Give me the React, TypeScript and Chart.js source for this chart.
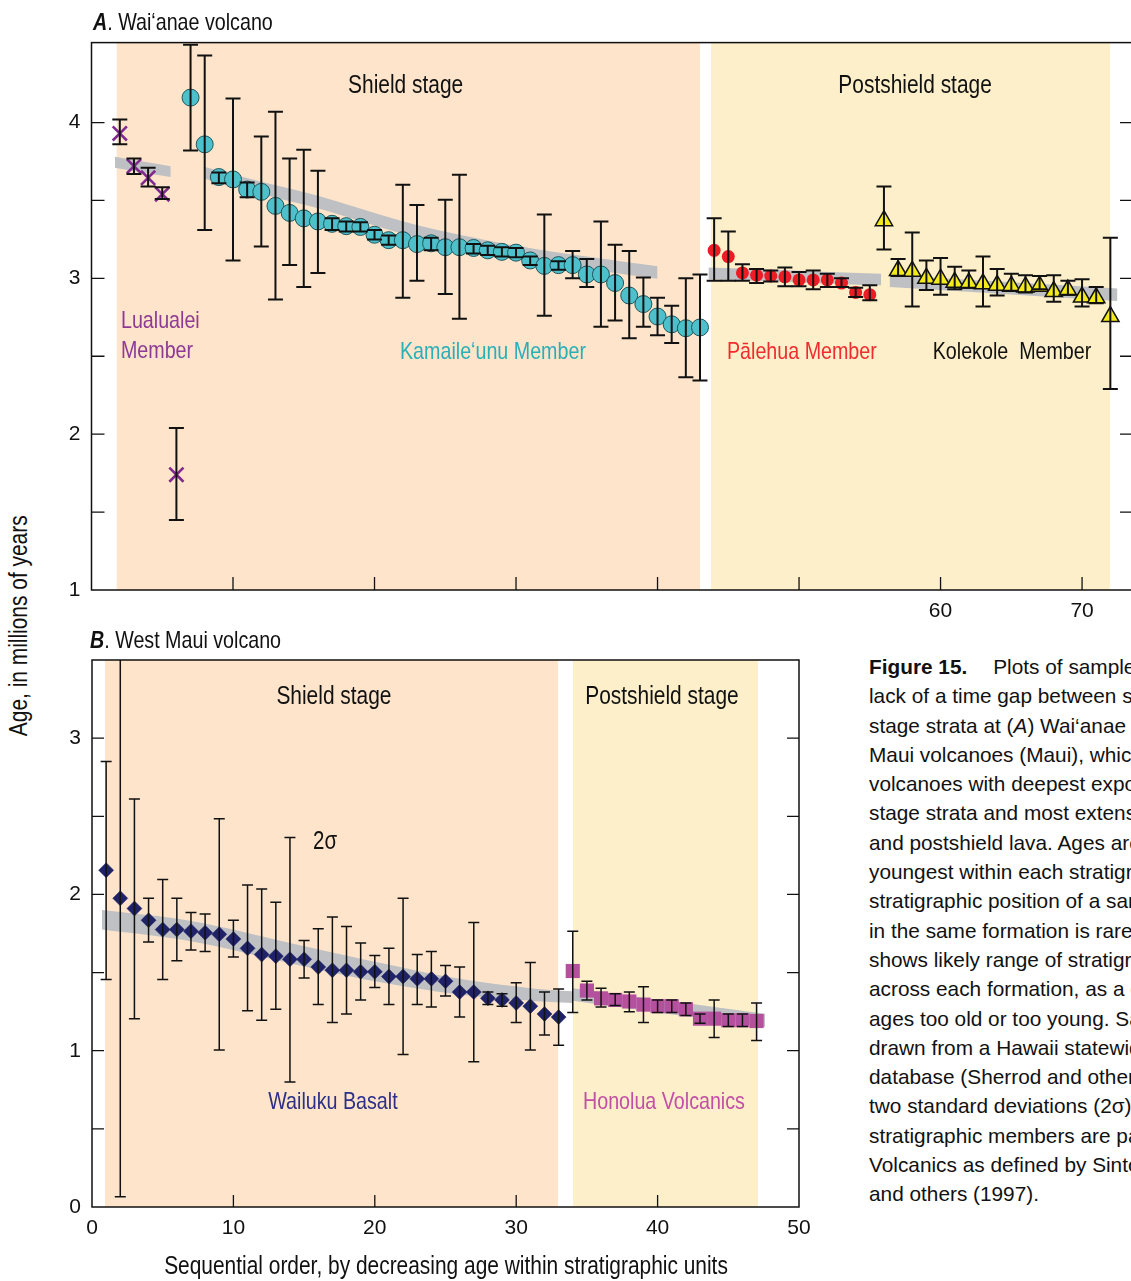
import React, { useEffect, useRef } from 'react';
import { Chart, registerables } from 'chart.js';

Chart.register(...registerables);

const SANS = '"Liberation Sans", Arial, sans-serif';
const CONDENSE = 0.82; // horizontal squeeze to imitate a condensed face

// ---------------- Panel A: Wai'anae volcano ----------------
const luaX = [2, 3, 4, 5, 6];
const luaAge = [3.93, 3.72, 3.645, 3.54, 1.74];
const luaLow = [3.86, 3.67, 3.59, 3.51, 1.45];
const luaHigh = [4.02, 3.77, 3.71, 3.585, 2.04];

const kamX = [7, 8, 9, 10, 11, 12, 13, 14, 15, 16, 17, 18, 19, 20, 21, 22, 23, 24, 25, 26, 27, 28, 29, 30, 31, 32, 33, 34, 35, 36, 37, 38, 39, 40, 41, 42, 43];
const kamAge = [4.16, 3.86, 3.65, 3.635, 3.57, 3.555, 3.465, 3.42, 3.385, 3.365, 3.35, 3.335, 3.33, 3.28, 3.245, 3.245, 3.22, 3.225, 3.2, 3.2, 3.195, 3.18, 3.17, 3.165, 3.115, 3.08, 3.085, 3.085, 3.025, 3.025, 2.97, 2.89, 2.835, 2.755, 2.705, 2.68, 2.685];
const kamLow = [3.82, 3.31, 3.61, 3.115, 3.52, 3.205, 2.865, 3.085, 2.945, 3.035, 3.31, 3.3, 3.3, 3.25, 3.215, 2.875, 2.985, 3.18, 2.9, 2.74, 3.16, 3.15, 3.14, 3.135, 3.085, 2.76, 3.055, 3.0, 2.945, 2.69, 2.73, 2.615, 2.69, 2.635, 2.585, 2.365, 2.345];
const kamHigh = [4.5, 4.43, 3.68, 4.155, 3.615, 3.91, 4.07, 3.77, 3.825, 3.69, 3.385, 3.365, 3.36, 3.31, 3.275, 3.6, 3.47, 3.26, 3.505, 3.665, 3.22, 3.21, 3.2, 3.195, 3.14, 3.41, 3.11, 3.175, 3.125, 3.365, 3.215, 3.175, 3.005, 2.875, 2.825, 3.0, 3.025];

const palX = [44, 45, 46, 47, 48, 49, 50, 51, 52, 53, 54, 55];
const palAge = [3.18, 3.14, 3.035, 3.02, 3.015, 3.01, 2.99, 2.99, 2.99, 2.97, 2.91, 2.895];
const palLow = [2.985, 2.985, 2.985, 2.97, 2.98, 2.95, 2.95, 2.93, 2.945, 2.945, 2.88, 2.86];
const palHigh = [3.385, 3.3, 3.09, 3.06, 3.05, 3.07, 3.04, 3.05, 3.03, 3.0, 2.94, 2.955];

const kolX = [56, 57, 58, 59, 60, 61, 62, 63, 64, 65, 66, 67, 68, 69, 70, 71, 72];
const kolAge = [3.37, 3.05, 3.045, 3.0, 2.995, 2.975, 2.97, 2.965, 2.955, 2.95, 2.945, 2.95, 2.915, 2.925, 2.88, 2.875, 2.755];
const kolLow = [3.185, 3.015, 2.82, 2.925, 2.895, 2.93, 2.94, 2.82, 2.89, 2.92, 2.91, 2.93, 2.85, 2.895, 2.82, 2.84, 2.29];
const kolHigh = [3.59, 3.125, 3.295, 3.115, 3.13, 3.075, 3.05, 3.14, 3.06, 3.03, 3.02, 3.015, 3.02, 2.985, 2.995, 2.945, 3.26];

// shaded trend bands (panel A)
const luaBandX = [1.65, 5.6];
const luaBandUpper = [3.78, 3.72];
const luaBandLower = [3.71, 3.65];
const kamBandX = [8, 12, 16, 20, 24, 30, 35, 40];
const kamBandUpper = [3.715, 3.62, 3.53, 3.42, 3.32, 3.21, 3.14, 3.077];
const kamBandLower = [3.64, 3.54, 3.45, 3.34, 3.24, 3.13, 3.06, 2.997];
const palBandX = [43.6, 55.8];
const palBandUpper = [3.07, 3.03];
const palBandLower = [2.995, 2.955];
const kolBandX = [56.4, 72.5];
const kolBandUpper = [3.02, 2.935];
const kolBandLower = [2.945, 2.855];

// ---------------- Panel B: West Maui volcano ----------------
const waiX = [1, 2, 3, 4, 5, 6, 7, 8, 9, 10, 11, 12, 13, 14, 15, 16, 17, 18, 19, 20, 21, 22, 23, 24, 25, 26, 27, 28, 29, 30, 31, 32, 33];
const waiAge = [2.155, 1.975, 1.91, 1.835, 1.775, 1.775, 1.765, 1.755, 1.745, 1.715, 1.655, 1.615, 1.605, 1.585, 1.585, 1.535, 1.515, 1.515, 1.505, 1.505, 1.475, 1.475, 1.46, 1.46, 1.445, 1.375, 1.375, 1.335, 1.325, 1.305, 1.285, 1.235, 1.215];
const waiLow = [1.455, 0.065, 1.205, 1.695, 1.455, 1.575, 1.645, 1.635, 1.005, 1.6, 1.255, 1.195, 1.265, 0.8, 1.465, 1.295, 1.18, 1.235, 1.325, 1.405, 1.295, 0.975, 1.295, 1.28, 1.35, 1.215, 0.93, 1.295, 1.285, 1.18, 1.005, 1.1, 1.035];
const waiHigh = [2.85, 3.88, 2.61, 1.975, 2.095, 1.975, 1.885, 1.875, 2.485, 1.835, 2.06, 2.035, 1.95, 2.365, 1.705, 1.78, 1.855, 1.795, 1.69, 1.61, 1.655, 1.975, 1.615, 1.635, 1.545, 1.535, 1.82, 1.375, 1.365, 1.435, 1.565, 1.375, 1.395];

const honX = [34, 35, 36, 37, 38, 39, 40, 41, 42, 43, 44, 45, 46, 47];
const honAge = [1.51, 1.385, 1.335, 1.325, 1.315, 1.295, 1.285, 1.285, 1.265, 1.205, 1.205, 1.195, 1.195, 1.19];
const honLow = [1.245, 1.325, 1.28, 1.29, 1.25, 1.18, 1.245, 1.245, 1.225, 1.175, 1.085, 1.155, 1.155, 1.065];
const honHigh = [1.765, 1.445, 1.4, 1.365, 1.375, 1.41, 1.325, 1.325, 1.305, 1.235, 1.325, 1.235, 1.235, 1.305];

const waiBandX = [0.7, 7, 14, 20, 26, 31, 34];
const waiBandUpper = [1.9, 1.83, 1.69, 1.57, 1.46, 1.4, 1.38];
const waiBandLower = [1.775, 1.7, 1.56, 1.445, 1.36, 1.32, 1.305];
const honBandX = [34, 47.6];
const honBandUpper = [1.4, 1.237];
const honBandLower = [1.32, 1.152];

// ---------------- axes ----------------
const aYTickLabels = [1, 2, 3, 4];
const aYTickMarks = [1.5, 2, 2.5, 3, 3.5, 4];
const aXTickLabels = [60, 70];
const aXTickMarks = [10, 20, 30, 40, 50, 60, 70];
const bYTickLabels = [0, 1, 2, 3];
const bYTickMarks = [0.5, 1, 1.5, 2, 2.5, 3];
const bXTickLabels = [0, 10, 20, 30, 40, 50];
const bXTickMarks = [10, 20, 30, 40];

// stage shading [from, to]
const aShieldStage = [1.78, 43.0];
const aPostshieldStage = [43.78, 71.98];
const bShieldStage = [0.92, 32.96];
const bPostshieldStage = [34.02, 47.1];

// in-plot labels
const aLabels = [
  { text: 'Shield stage', x: 22.2, y: 4.237, color: '#111', align: 'center', size: 25.5 },
  { text: 'Postshield stage', x: 58.2, y: 4.237, color: '#111', align: 'center', size: 25.5 },
  { text: 'Lualualei', x: 2.08, y: 2.725, color: '#8E3A94', align: 'left', size: 24 },
  { text: 'Member', x: 2.08, y: 2.532, color: '#8E3A94', align: 'left', size: 24 },
  { text: 'Kamaile‘unu Member', x: 28.37, y: 2.526, color: '#2AAFB8', align: 'center', size: 24 },
  { text: 'Pālehua Member', x: 50.2, y: 2.526, color: '#EE2D2F', align: 'center', size: 24 },
  { text: 'Kolekole  Member', x: 65.05, y: 2.526, color: '#111', align: 'center', size: 24 },
];
const bLabels = [
  { text: 'Shield stage', x: 17.11, y: 3.263, color: '#111', align: 'center', size: 25.5 },
  { text: 'Postshield stage', x: 40.31, y: 3.263, color: '#111', align: 'center', size: 25.5 },
  { text: '2σ', x: 16.48, y: 2.333, color: '#111', align: 'center', size: 25 },
  { text: 'Wailuku Basalt', x: 17.04, y: 0.667, color: '#2B2F86', align: 'center', size: 24 },
  { text: 'Honolua Volcanics', x: 40.45, y: 0.667, color: '#C24FA5', align: 'center', size: 24 },
];

const SHIELD_COLOR = '#FDE4CA';
const POST_COLOR = '#FCEFC9';
const BAND_COLOR = '#BEC0C3';

function pts(xs: number[], ys: number[]) {
  return xs.map((x, i) => ({ x, y: ys[i] }));
}

function band(xs: number[], upper: number[], lower: number[]) {
  return [
    {
      type: 'line', data: pts(xs, upper), showLine: true, borderWidth: 0, borderColor: 'rgba(0,0,0,0)',
      pointRadius: 0, fill: '+1', backgroundColor: BAND_COLOR, tension: 0.35, order: 10,
    },
    {
      type: 'line', data: pts(xs, lower), showLine: true, borderWidth: 0, borderColor: 'rgba(0,0,0,0)',
      pointRadius: 0, fill: false, tension: 0.35, order: 10,
    },
  ];
}

function markers(xs: number[], ys: number[], lo: number[], hi: number[], style: any) {
  return {
    type: 'scatter', data: pts(xs, ys), showLine: false, order: 0,
    errLow: lo, errHigh: hi,
    pointStyle: style.shape, pointRadius: style.r, radius: style.r,
    backgroundColor: style.fill, pointBackgroundColor: style.fill,
    borderColor: style.stroke, pointBorderColor: style.stroke,
    borderWidth: style.lw, pointBorderWidth: style.lw,
  };
}

type Decor = {
  stages: { range: number[]; color: string }[];
  labels: { text: string; x: number; y: number; color: string; align: string; size: number }[];
  xMarks: number[];
  yMarks: number[];
  tickLen: number;
  capHalf: number;
  errWidth: number;
};

function decorPlugin(d: Decor) {
  return {
    id: 'decor',
    beforeDatasetsDraw(chart: any) {
      const { ctx, chartArea: a, scales } = chart;
      ctx.save();
      for (const s of d.stages) {
        const x0 = Math.max(a.left, scales.x.getPixelForValue(s.range[0]));
        const x1 = Math.min(a.right, scales.x.getPixelForValue(s.range[1]));
        ctx.fillStyle = s.color;
        ctx.fillRect(x0, a.top, x1 - x0, a.bottom - a.top);
      }
      ctx.restore();
    },
    afterDatasetsDraw(chart: any) {
      const { ctx, chartArea: a, scales } = chart;
      ctx.save();
      ctx.beginPath();
      ctx.rect(a.left, a.top, a.right - a.left, a.bottom - a.top);
      ctx.clip();
      ctx.strokeStyle = '#111';
      ctx.lineWidth = d.errWidth;
      chart.data.datasets.forEach((ds: any) => {
        if (!ds.errLow) return;
        ds.data.forEach((p: any, i: number) => {
          const px = scales.x.getPixelForValue(p.x);
          const yl = scales.y.getPixelForValue(ds.errLow[i]);
          const yh = scales.y.getPixelForValue(ds.errHigh[i]);
          ctx.beginPath();
          ctx.moveTo(px, yl);
          ctx.lineTo(px, yh);
          ctx.moveTo(px - d.capHalf, yl);
          ctx.lineTo(px + d.capHalf, yl);
          ctx.moveTo(px - d.capHalf, yh);
          ctx.lineTo(px + d.capHalf, yh);
          ctx.stroke();
        });
      });
      ctx.restore();
    },
    afterDraw(chart: any) {
      const { ctx, chartArea: a, scales } = chart;
      ctx.save();
      ctx.strokeStyle = '#111';
      ctx.lineWidth = 1.5;
      ctx.strokeRect(a.left, a.top, a.right - a.left, a.bottom - a.top);
      ctx.lineWidth = 1.3;
      ctx.beginPath();
      for (const v of d.yMarks) {
        const py = scales.y.getPixelForValue(v);
        ctx.moveTo(a.left, py);
        ctx.lineTo(a.left + d.tickLen, py);
        ctx.moveTo(a.right, py);
        ctx.lineTo(a.right - d.tickLen, py);
      }
      for (const v of d.xMarks) {
        const px = scales.x.getPixelForValue(v);
        ctx.moveTo(px, a.bottom);
        ctx.lineTo(px, a.bottom - d.tickLen);
      }
      ctx.stroke();
      for (const l of d.labels) {
        ctx.save();
        ctx.translate(scales.x.getPixelForValue(l.x), scales.y.getPixelForValue(l.y));
        ctx.scale(CONDENSE, 1);
        ctx.font = `${l.size}px ${SANS}`;
        ctx.fillStyle = l.color;
        ctx.textAlign = l.align as CanvasTextAlign;
        ctx.textBaseline = 'middle';
        ctx.fillText(l.text, 0, 0);
        ctx.restore();
      }
      ctx.restore();
    },
  };
}

function makeConfig(opts: {
  datasets: any[]; xMin: number; xMax: number; yMin: number; yMax: number;
  xLabels: number[]; yLabels: number[]; padTop: number; padRight: number;
  yWidth: number; xHeight: number; decor: Decor;
}) {
  const tickFont = { family: SANS, size: 21 };
  return {
    type: 'scatter',
    data: { datasets: opts.datasets },
    options: {
      animation: false,
      responsive: false,
      events: [],
      layout: { padding: { top: opts.padTop, right: opts.padRight, left: 0, bottom: 0 } },
      plugins: { legend: { display: false }, tooltip: { enabled: false } },
      scales: {
        x: {
          type: 'linear', min: opts.xMin, max: opts.xMax,
          grid: { display: false, drawTicks: false }, border: { display: false },
          ticks: { font: tickFont, color: '#111', padding: 9, maxRotation: 0 },
          afterBuildTicks: (s: any) => { s.ticks = opts.xLabels.map((v) => ({ value: v })); },
          afterFit: (s: any) => { s.height = opts.xHeight; s.paddingLeft = 0; s.paddingRight = 0; },
        },
        y: {
          type: 'linear', min: opts.yMin, max: opts.yMax,
          grid: { display: false, drawTicks: false }, border: { display: false },
          ticks: { font: tickFont, color: '#111', padding: 11 },
          afterBuildTicks: (s: any) => { s.ticks = opts.yLabels.map((v) => ({ value: v })); },
          afterFit: (s: any) => { s.width = opts.yWidth; s.paddingTop = 0; s.paddingBottom = 0; },
        },
      },
    },
    plugins: [decorPlugin(opts.decor)],
  };
}

function configA() {
  const datasets = [
    markers(luaX, luaAge, luaLow, luaHigh, { shape: 'crossRot', r: 10, fill: '#80298F', stroke: '#80298F', lw: 2.6 }),
    markers(kamX, kamAge, kamLow, kamHigh, { shape: 'circle', r: 8.5, fill: '#4DC0CB', stroke: '#1F565C', lw: 1 }),
    markers(palX, palAge, palLow, palHigh, { shape: 'circle', r: 6.5, fill: '#EC1C24', stroke: '#EC1C24', lw: 0 }),
    markers(kolX, kolAge, kolLow, kolHigh, { shape: 'triangle', r: 10, fill: '#F3EA1C', stroke: '#111', lw: 1.5 }),
    ...band(luaBandX, luaBandUpper, luaBandLower),
    ...band(kamBandX, kamBandUpper, kamBandLower),
    ...band(palBandX, palBandUpper, palBandLower),
    ...band(kolBandX, kolBandUpper, kolBandLower),
  ];
  return makeConfig({
    datasets, xMin: 0, xMax: 73.6, yMin: 1, yMax: 4.513,
    xLabels: aXTickLabels, yLabels: aYTickLabels,
    padTop: 12, padRight: 67, yWidth: 51.5, xHeight: 50,
    decor: {
      stages: [{ range: aShieldStage, color: SHIELD_COLOR }, { range: aPostshieldStage, color: POST_COLOR }],
      labels: aLabels, xMarks: aXTickMarks, yMarks: aYTickMarks, tickLen: 13, capHalf: 7.5, errWidth: 2,
    },
  });
}

function configB() {
  const datasets = [
    markers(waiX, waiAge, waiLow, waiHigh, { shape: 'rectRot', r: 7.5, fill: '#1F2266', stroke: '#1F2266', lw: 0.5 }),
    markers(honX, honAge, honLow, honHigh, { shape: 'rect', r: 10, fill: '#B5509F', stroke: '#B5509F', lw: 0 }),
    ...band(waiBandX, waiBandUpper, waiBandLower),
    ...band(honBandX, honBandUpper, honBandLower),
  ];
  return makeConfig({
    datasets, xMin: 0, xMax: 50, yMin: 0, yMax: 3.5,
    xLabels: bXTickLabels, yLabels: bYTickLabels,
    padTop: 15, padRight: 31, yWidth: 52, xHeight: 48,
    decor: {
      stages: [{ range: bShieldStage, color: SHIELD_COLOR }, { range: bPostshieldStage, color: POST_COLOR }],
      labels: bLabels, xMarks: bXTickMarks, yMarks: bYTickMarks, tickLen: 12, capHalf: 5.5, errWidth: 1.5,
    },
  });
}

function ChartCanvas(props: { make: () => any; left: number; top: number; width: number; height: number }) {
  const ref = useRef<HTMLCanvasElement>(null);
  useEffect(() => {
    const chart = new Chart(ref.current as HTMLCanvasElement, props.make());
    return () => chart.destroy();
  }, []);
  return (
    <canvas
      ref={ref}
      width={props.width}
      height={props.height}
      style={{ position: 'absolute', left: props.left, top: props.top, width: props.width, height: props.height }}
    />
  );
}

const captionLines: React.ReactNode[] = [
  <><b>Figure 15.</b><span style={{ marginLeft: 26 }}>Plots of samples showing</span></>,
  'lack of a time gap between shield and postshield',
  <>stage strata at (<i>A</i>) Wai‘anae and (<i>B</i>) West</>,
  'Maui volcanoes (Maui), which are',
  'volcanoes with deepest exposed shield',
  'stage strata and most extensive',
  'and postshield lava. Ages are ordered',
  'youngest within each stratigraphic unit',
  'stratigraphic position of a sample',
  'in the same formation is rarely known',
  'shows likely range of stratigraphic',
  'across each formation, as a guide',
  'ages too old or too young. Samples',
  'drawn from a Hawaii statewide',
  'database (Sherrod and others',
  'two standard deviations (2σ).',
  'stratigraphic members are part',
  'Volcanics as defined by Sinton',
  'and others (1997).',
];

const condensed = (origin: string): React.CSSProperties => ({
  display: 'inline-block', transform: `scaleX(${CONDENSE})`, transformOrigin: origin,
});

export default function App() {
  return (
    <div style={{ position: 'absolute', left: 0, top: 0, width: 1131, height: 1281, overflow: 'hidden', background: '#fff' }}>
      <ChartCanvas make={configA} left={40} top={30} width={1160} height={610} />
      <ChartCanvas make={configB} left={40} top={645} width={790} height={610} />
      <div style={{ position: 'absolute', left: 93, top: 10, font: `24px ${SANS}`, lineHeight: 1, whiteSpace: 'nowrap', color: '#111' }}>
        <span style={condensed('left center')}><b><i>A</i></b>. Wai‘anae volcano</span>
      </div>
      <div style={{ position: 'absolute', left: 90, top: 628, font: `24px ${SANS}`, lineHeight: 1, whiteSpace: 'nowrap', color: '#111' }}>
        <span style={condensed('left center')}><b><i>B</i></b>. West Maui volcano</span>
      </div>
      <div style={{
        position: 'absolute', left: 19 - 200, top: 625 - 12.5, width: 400, textAlign: 'center',
        font: `25.5px ${SANS}`, lineHeight: 1, whiteSpace: 'nowrap', color: '#111',
        transform: `rotate(-90deg) scaleX(${CONDENSE})`, transformOrigin: 'center center',
      }}>
        Age, in millions of years
      </div>
      <div style={{
        position: 'absolute', left: 446 - 400, top: 1253, width: 800, textAlign: 'center',
        font: `25.5px ${SANS}`, lineHeight: 1, whiteSpace: 'nowrap', color: '#111',
        transform: `scaleX(${CONDENSE})`, transformOrigin: 'center center',
      }}>
        Sequential order, by decreasing age within stratigraphic units
      </div>
      <div style={{ position: 'absolute', left: 869, top: 652, font: `20.8px ${SANS}`, lineHeight: '29.3px', color: '#111', whiteSpace: 'nowrap' }}>
        {captionLines.map((l, i) => (<div key={i}>{l}</div>))}
      </div>
    </div>
  );
}
